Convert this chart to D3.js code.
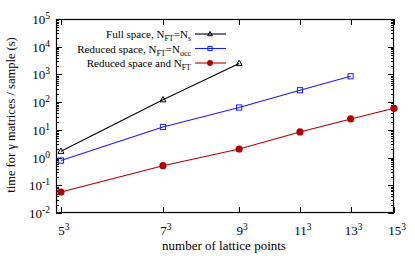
<!DOCTYPE html>
<html>
<head>
<meta charset="utf-8">
<script src="https://cdn.jsdelivr.net/npm/d3@7"></script>
<style>
  body { margin: 0; background: #fff; }
  text { font-family: "Liberation Serif", "Times New Roman", serif; fill: #000; }
</style>
</head>
<body>
<div id="chart"></div>
<script>
const latticeSides = [5, 7, 9, 11, 13, 15];

const fullSpace = [1.7, 123, 2500];
const reducedOcc = [0.78, 12.7, 64, 269, 860];
const reducedFT = [0.057, 0.51, 2.04, 8.4, 24.7, 60];

const yExponents = [-2, -1, 0, 1, 2, 3, 4, 5];

const margin = { top: 19, left: 56, bottom: 43, right: 21 };
const width = 415 - margin.left - margin.right;
const height = 256 - margin.top - margin.bottom;

const svg = d3.select('#chart').append('svg')
    .attr('width', width + margin.left + margin.right)
    .attr('height', height + margin.top + margin.bottom);

const g = svg.append('g')
    .attr('transform', `translate(${margin.left},${margin.top})`);

const xScale = d3.scaleLog()
    .domain([119, 3375])
    .range([0, width]);

const yScale = d3.scaleLog()
    .domain([1e-2, 1e5])
    .range([height, 0]);

const series = [
    { name: 'full', values: fullSpace, color: '#000000', symbol: 'triangle' },
    { name: 'occ', values: reducedOcc, color: '#1a1aff', symbol: 'square' },
    { name: 'ft', values: reducedFT, color: '#b00000', symbol: 'circle' }
];

const toPoints = vals => vals.map((v, i) => ({ n: latticeSides[i] ** 3, v }));

// y ticks, major and minor, on both sides
const minorY = [];
for (let e = -2; e < 5; e++) {
    for (let m = 1; m <= 9; m++) minorY.push(m * 10 ** e);
}
minorY.push(1e5);

const ticks = g.append('g').attr('class', 'ticks')
    .attr('stroke', '#000').attr('stroke-width', 1);

minorY.forEach(v => {
    const y = Math.round(yScale(v)) + 0.5;
    const isMajor = Math.abs(Math.log10(v) - Math.round(Math.log10(v))) < 1e-9;
    const len = isMajor ? 6 : 3;
    ticks.append('line').attr('x1', 0).attr('x2', len).attr('y1', y).attr('y2', y);
    ticks.append('line').attr('x1', width - len).attr('x2', width).attr('y1', y).attr('y2', y);
});

latticeSides.forEach(s => {
    const x = Math.round(xScale(s ** 3)) + 0.5;
    ticks.append('line').attr('x1', x).attr('x2', x).attr('y1', height).attr('y2', height - 6);
    ticks.append('line').attr('x1', x).attr('x2', x).attr('y1', 0).attr('y2', 6);
});

// frame
g.append('rect')
    .attr('x', 0.5).attr('y', 0.5)
    .attr('width', width - 1).attr('height', height - 1)
    .attr('fill', 'none').attr('stroke', '#000').attr('stroke-width', 1.2);

// tick labels
const yLabels = g.append('g').attr('class', 'y-labels');
yExponents.forEach(e => {
    const t = yLabels.append('text')
        .attr('x', -6)
        .attr('y', yScale(10 ** e) + 5)
        .style('text-anchor', 'end')
        .style('font-size', '13px');
    t.append('tspan').text('10');
    t.append('tspan').attr('dy', -5).style('font-size', '9.5px').text(e);
});

const xLabels = g.append('g').attr('class', 'x-labels');
latticeSides.forEach(s => {
    const t = xLabels.append('text')
        .attr('x', xScale(s ** 3) + 3)
        .attr('y', height + 22)
        .style('text-anchor', 'middle')
        .style('font-size', '13px');
    t.append('tspan').text(s);
    t.append('tspan').attr('dy', -5).style('font-size', '9.5px').text('3');
});

// axis titles
g.append('text')
    .attr('x', width / 2 - 1)
    .attr('y', height + 37)
    .style('text-anchor', 'middle')
    .style('font-size', '13px')
    .text('number of lattice points');

svg.append('text')
    .attr('transform', `translate(15,${margin.top + height / 2 - 1}) rotate(-90)`)
    .style('text-anchor', 'middle')
    .style('font-size', '12.5px')
    .text('time for \u03B3 matrices / sample (s)');

// lines and markers
const line = d3.line()
    .x(d => xScale(d.n))
    .y(d => yScale(d.v));

function drawSymbol(sel, symbol, color, k = 1) {
    if (symbol === 'triangle') {
        sel.append('path')
            .attr('d', `M0,${-3.2 * k}L${3 * k},${2.2 * k}L${-3 * k},${2.2 * k}Z`)
            .attr('fill', 'none').attr('stroke', color).attr('stroke-width', 1);
    } else if (symbol === 'square') {
        sel.append('rect')
            .attr('x', -2.6 * k).attr('y', -2.6 * k)
            .attr('width', 5.2 * k).attr('height', 5.2 * k)
            .attr('fill', 'none').attr('stroke', color).attr('stroke-width', 1);
    } else {
        sel.append('circle')
            .attr('r', 3.6 * k)
            .attr('fill', color);
    }
}

series.forEach(s => {
    const pts = toPoints(s.values);
    g.append('path').datum(pts)
        .attr('d', line)
        .attr('fill', 'none')
        .attr('stroke', s.color)
        .attr('stroke-width', 1.1);
    g.selectAll(null).data(pts)
        .enter().append('g')
        .attr('transform', d => `translate(${xScale(d.n)},${yScale(d.v)})`)
        .each(function () { drawSymbol(d3.select(this), s.symbol, s.color); });
});

// legend
const legendRows = [
    [['Full space, N', ''], ['FT', 'sub'], ['=N', ''], ['s', 'sub']],
    [['Reduced space, N', ''], ['FT', 'sub'], ['=N', ''], ['occ', 'sub']],
    [['Reduced space and N', ''], ['FT', 'sub']]
];

const legend = svg.append('g').attr('class', 'legend');
legendRows.forEach((parts, i) => {
    const y = 34 + i * 14.5;
    const t = legend.append('text')
        .attr('x', 191)
        .attr('y', y + 4)
        .style('text-anchor', 'end')
        .style('font-size', '11px');
    let sub = false;
    parts.forEach(([txt, kind]) => {
        const ts = t.append('tspan').text(txt);
        if (kind === 'sub' && !sub) { ts.attr('dy', 3).style('font-size', '8px'); sub = true; }
        else if (kind === 'sub') { ts.style('font-size', '8px'); }
        else if (sub) { ts.attr('dy', -3); sub = false; }
    });
    const s = series[i];
    legend.append('line')
        .attr('x1', 195).attr('x2', 226).attr('y1', y).attr('y2', y)
        .attr('stroke', s.color).attr('stroke-width', 1.1);
    drawSymbol(legend.append('g').attr('transform', `translate(210,${y})`), s.symbol, s.color, 0.8);
});
</script>
</body>
</html>
